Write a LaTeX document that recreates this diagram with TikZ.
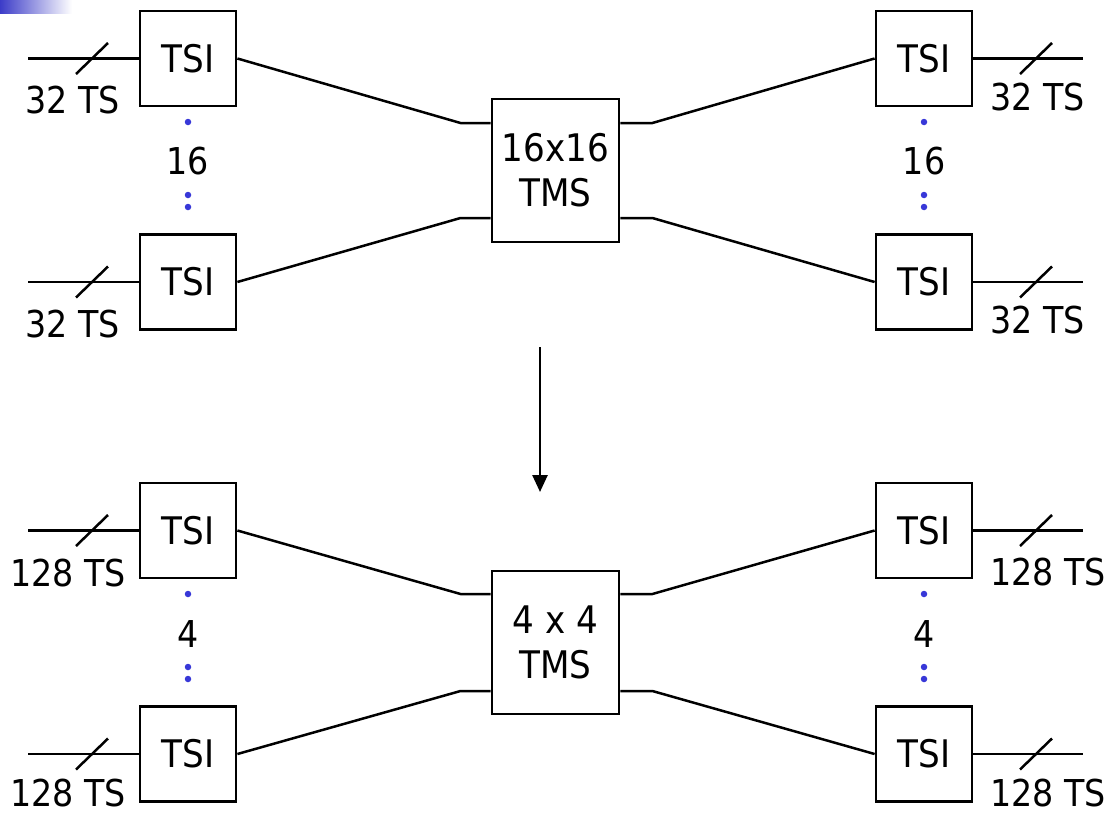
\documentclass[tikz,border=0pt]{standalone}
\usepackage{fontspec}
\setmainfont{DejaVu Sans Condensed}
\usetikzlibrary{arrows.meta}
\definecolor{dotblue}{RGB}{56,56,216}
\definecolor{barblue}{RGB}{60,60,200}
\tikzset{
  wire/.style={line width=2.5pt, line cap=butt},
  tsibox/.style={draw, line width=2.8pt, minimum width=96pt, minimum height=95pt, inner sep=0pt, font=\fontsize{38}{45}\selectfont},
  tmsbox/.style={draw, line width=2.8pt, minimum width=127pt, minimum height=143pt, inner sep=0pt, align=center, font=\fontsize{38}{45}\selectfont},
  lbl/.style={inner sep=0pt, anchor=base, font=\fontsize{37}{43}\selectfont},
  rlbl/.style={inner sep=0pt, anchor=base west, font=\fontsize{37}{43}\selectfont},
  vdot/.style={circle, fill=dotblue, inner sep=0pt, minimum size=6.5pt},
}
\begin{document}
\begin{tikzpicture}[x=1pt,y=-1pt]
\useasboundingbox (0,0) rectangle (1107,814);
\shade[left color=barblue, right color=white] (0,0) rectangle (72,13);

% ---------- top section ----------
\node[tsibox] (tl1) at (188,58.5) {TSI};
\node[tsibox] (tl2) at (188,282) {TSI};
\node[tsibox] (tr1) at (924,58.5) {TSI};
\node[tsibox] (tr2) at (924,282) {TSI};
\node[tmsbox] (tms1) at (555.5,170.5) {16x16\\TMS};

\coordinate (tl1in) at (28,58.5);
\coordinate (tl2in) at (28,282);
\coordinate (tr1out) at (1083,58.5);
\coordinate (tr2out) at (1083,282);
\coordinate (tl1s) at (92,58.5);
\coordinate (tl2s) at (92,282);
\coordinate (tr1s) at (1036,58.5);
\coordinate (tr2s) at (1036,282);

\draw[wire] (tl1in) -- (tl1.west);
\draw[wire] (tl2in) -- (tl2.west);
\draw[wire] (tr1.east) -- (tr1out);
\draw[wire] (tr2.east) -- (tr2out);
\foreach \s in {tl1s,tl2s,tr1s,tr2s}
  \draw[wire] ([shift={(-16,15.5)}]\s) -- ([shift={(16,-15.5)}]\s);

\coordinate (m1a) at ([shift={(-95,-47.5)}]tms1.center);
\coordinate (m1b) at ([shift={(-95,47.5)}]tms1.center);
\coordinate (m1ae) at (m1a -| tms1.west);
\coordinate (m1be) at (m1b -| tms1.west);
\coordinate (m1ce) at (m1a -| tms1.east);
\coordinate (m1de) at (m1b -| tms1.east);
\coordinate (m1cs) at ([xshift=32]m1ce);
\coordinate (m1ds) at ([xshift=32]m1de);

\draw[wire] (tl1.east) -- (m1a) -- (m1ae);
\draw[wire] (tl2.east) -- (m1b) -- (m1be);
\draw[wire] (tr1.west) -- (m1cs) -- (m1ce);
\draw[wire] (tr2.west) -- (m1ds) -- (m1de);

\node[lbl] (l1) at (73,113) {32 TS};
\node[lbl] (l2) at (73,337) {32 TS};
\node[rlbl] (r1) at (990,110) {32 TS};
\node[rlbl] (r2) at (990,333) {32 TS};

\node[vdot] (d1) at (188,122) {};
\node[lbl] (n1) at (188,174) {16};
\node[vdot] (d2) at (188,195) {};
\node[vdot] (d3) at (188,207) {};
\node[vdot] (d4) at (924,122) {};
\node[lbl] (n2) at (924,174) {16};
\node[vdot] (d5) at (924,195) {};
\node[vdot] (d6) at (924,207) {};

% ---------- arrow ----------
\coordinate (arA) at (540,347);
\coordinate (arB) at (540,492);
\draw[wire, -{Triangle[width=15pt,length=17pt]}] (arA) -- (arB);

% ---------- bottom section ----------
\node[tsibox] (bl1) at (188,530.5) {TSI};
\node[tsibox] (bl2) at (188,754) {TSI};
\node[tsibox] (br1) at (924,530.5) {TSI};
\node[tsibox] (br2) at (924,754) {TSI};
\node[tmsbox] (tms2) at (555.5,642.5) {4 x 4\\TMS};

\coordinate (bl1in) at (28,530.5);
\coordinate (bl2in) at (28,754);
\coordinate (br1out) at (1083,530.5);
\coordinate (br2out) at (1083,754);
\coordinate (bl1s) at (92,530.5);
\coordinate (bl2s) at (92,754);
\coordinate (br1s) at (1036,530.5);
\coordinate (br2s) at (1036,754);

\draw[wire] (bl1in) -- (bl1.west);
\draw[wire] (bl2in) -- (bl2.west);
\draw[wire] (br1.east) -- (br1out);
\draw[wire] (br2.east) -- (br2out);
\foreach \s in {bl1s,bl2s,br1s,br2s}
  \draw[wire] ([shift={(-16,15.5)}]\s) -- ([shift={(16,-15.5)}]\s);

\coordinate (m2a) at ([shift={(-95,-48.5)}]tms2.center);
\coordinate (m2b) at ([shift={(-95,48.5)}]tms2.center);
\coordinate (m2ae) at (m2a -| tms2.west);
\coordinate (m2be) at (m2b -| tms2.west);
\coordinate (m2ce) at (m2a -| tms2.east);
\coordinate (m2de) at (m2b -| tms2.east);
\coordinate (m2cs) at ([xshift=32]m2ce);
\coordinate (m2ds) at ([xshift=32]m2de);

\draw[wire] (bl1.east) -- (m2a) -- (m2ae);
\draw[wire] (bl2.east) -- (m2b) -- (m2be);
\draw[wire] (br1.west) -- (m2cs) -- (m2ce);
\draw[wire] (br2.west) -- (m2ds) -- (m2de);

\node[lbl] (l3) at (68,586) {128 TS};
\node[lbl] (l4) at (68,806) {128 TS};
\node[rlbl] (r3) at (990,585) {128 TS};
\node[rlbl] (r4) at (990,806) {128 TS};

\node[vdot] (d7) at (188,594) {};
\node[lbl] (n3) at (188,647) {4};
\node[vdot] (d8) at (188,667) {};
\node[vdot] (d9) at (188,679) {};
\node[vdot] (d10) at (924,594) {};
\node[lbl] (n4) at (924,647) {4};
\node[vdot] (d11) at (924,667) {};
\node[vdot] (d12) at (924,679) {};
\end{tikzpicture}
\end{document}
